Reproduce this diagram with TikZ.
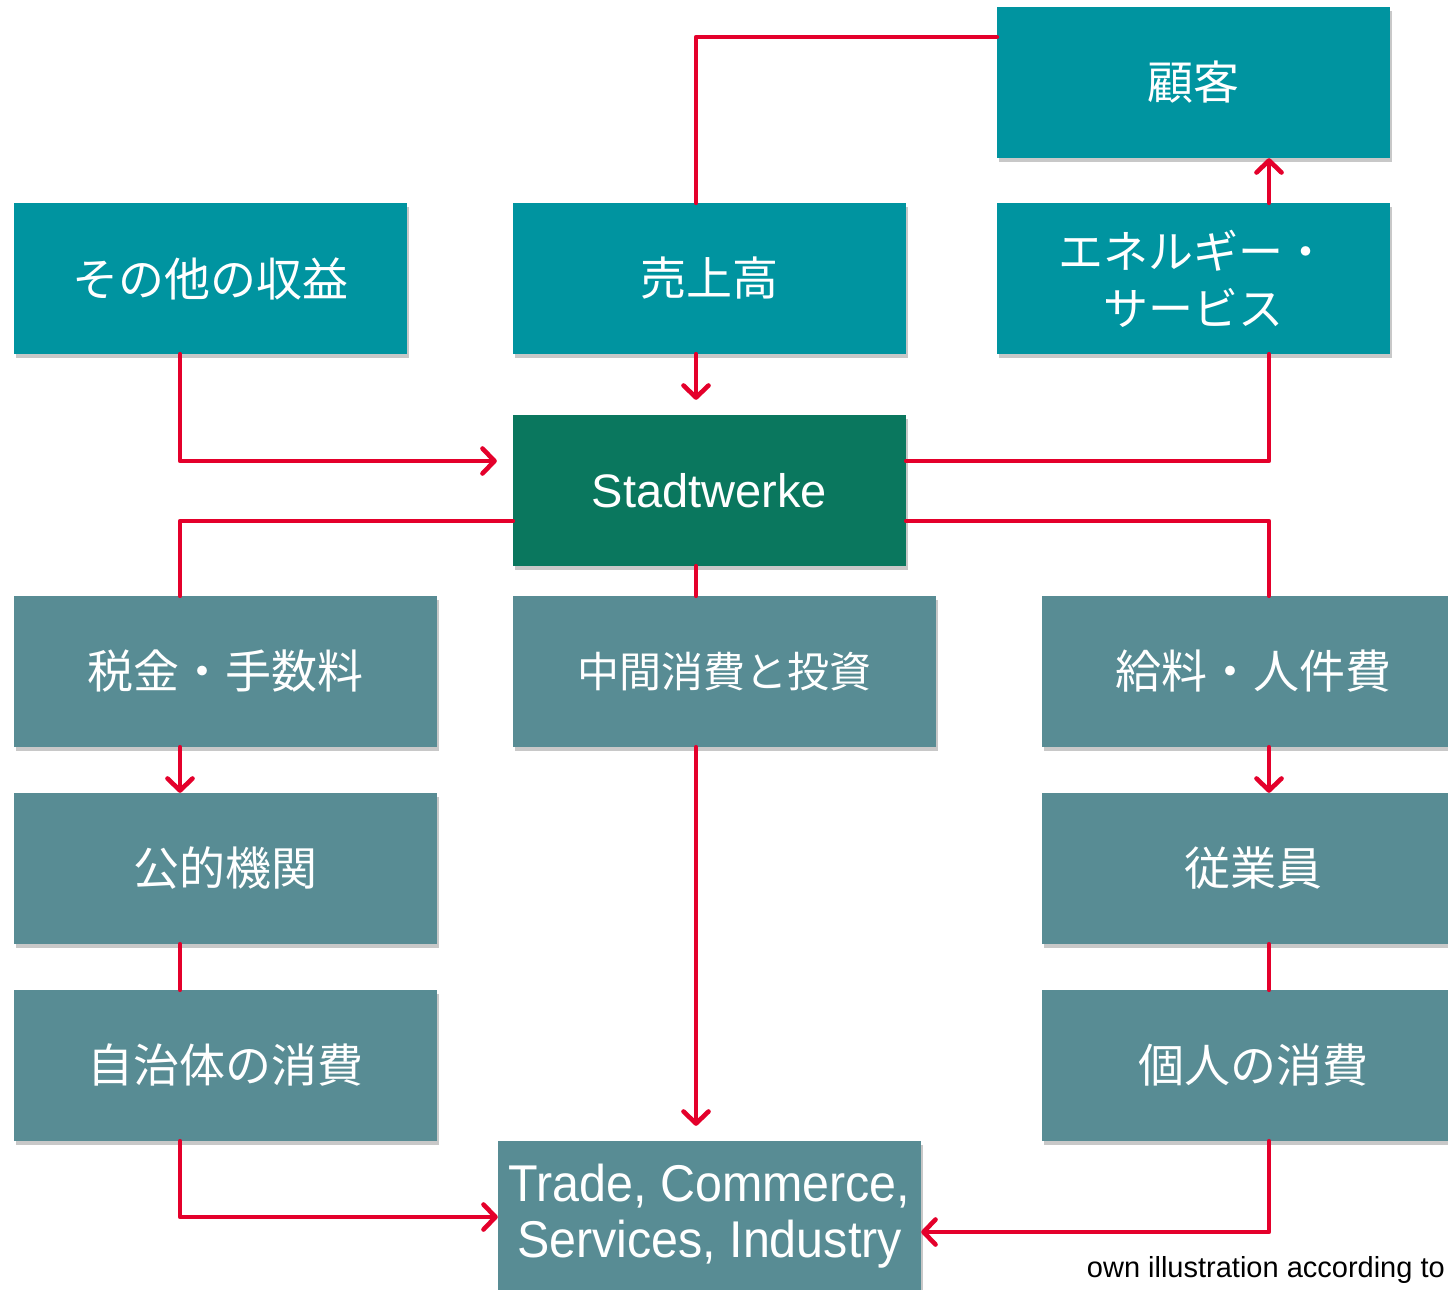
\documentclass[tikz,border=0pt]{standalone}
\usepackage{fontspec}
\setmainfont{Liberation Sans}
\newfontfamily\jp{Noto Sans CJK JP}
\usetikzlibrary{arrows.meta,shadows,calc}
\definecolor{tealbox}{HTML}{0094A0}
\definecolor{greenbox}{HTML}{0A775E}
\definecolor{graybox}{HTML}{588C94}
\definecolor{redline}{HTML}{E4002B}
\begin{document}
\begin{tikzpicture}[x=1pt,y=-1pt,
  box/.style={minimum width=393pt, minimum height=151pt, inner sep=0pt, text=white, align=center,
    drop shadow={opacity=0.3, fill=black!70, shadow xshift=2pt, shadow yshift=-4pt}},
  wbox/.style={box, minimum width=423pt},
  tealfill/.style={fill=tealbox},
  greenfill/.style={fill=greenbox},
  grayfill/.style={fill=graybox},
  jptext/.style={font=\jp\fontsize{46}{57}\selectfont},
  latext/.style={font=\fontsize{47}{55}\selectfont},
  conn/.style={draw=redline, line width=4.6pt, line join=round, line cap=round},
  arr/.style={conn, -{Straight Barb[length=12pt, width=25pt, line cap=round, line join=round]}},
]
\path[use as bounding box, fill=white] (0,0) rectangle (1448,1290);

% column/row helper coordinates
\coordinate (cL) at (180,0);
\coordinate (cC) at (696,0);
\coordinate (cR) at (1269,0);
\coordinate (rTop) at (0,37);
\coordinate (r1) at (0,461);
\coordinate (r2) at (0,521);
\coordinate (r3) at (0,1217);
\coordinate (r4) at (0,1232);

% nodes
\node[box, tealfill, jptext] (cust) at (1193.5,82.5) {顧客};
\node[box, tealfill, jptext] (other) at (210.5,278.5) {その他の収益};
\node[box, tealfill, jptext] (sales) at (709.5,278.5) {売上高};
\node[box, tealfill, font=\jp\fontsize{45}{57}\selectfont] (energy) at (1193.5,278.5) {エネルギー・\\サービス};
\node[box, greenfill, latext] (sw) at (709.5,490.5) {Stadtwerke};
\node[wbox, grayfill, jptext] (tax) at (225.5,671.5) {税金・手数料};
\node[wbox, grayfill, font=\jp\fontsize{42}{57}\selectfont] (inter) at (724.5,671.5) {中間消費と投資};
\node[wbox, grayfill, jptext] (wage) at (1253.5,671.5) {給料・人件費};
\node[wbox, grayfill, jptext] (pub) at (225.5,868.5) {公的機関};
\node[wbox, grayfill, jptext] (emp) at (1253.5,868.5) {従業員};
\node[wbox, grayfill, jptext] (muni) at (225.5,1065.5) {自治体の消費};
\node[wbox, grayfill, jptext] (priv) at (1253.5,1065.5) {個人の消費};
\node[wbox, grayfill, latext] (trade) at (709.5,1216.5) {\raisebox{-3pt}{\scalebox{1.03}[1.1]{Trade, Commerce,}}\\[1pt]\raisebox{-3pt}{\scalebox{1.03}[1.1]{Services, Industry}}};
\node[anchor=base east, inner sep=0pt, font=\fontsize{29}{34}\selectfont] (note) at (1445,1277) {own illustration according to};

% connectors
\draw[conn] (sales.north -| cC) |- (cust.west |- rTop);
\draw[arr, shorten >=15pt] (sales.south -| cC) -- (sw.north -| cC);
\draw[arr, shorten >=16pt] (other.south -| cL) |- (sw.west |- r1);
\draw[conn] (sw.east |- r1) -| (energy.south -| cR);
\draw[arr] (energy.north -| cR) -- (cust.south -| cR);
\draw[conn] (sw.west |- r2) -| (tax.north -| cL);
\draw[conn] (sw.east |- r2) -| (wage.north -| cR);
\draw[conn] (sw.south -| cC) -- (inter.north -| cC);
\draw[arr, shorten >=15pt] (inter.south -| cC) -- (trade.north -| cC);
\draw[arr] (tax.south -| cL) -- (pub.north -| cL);
\draw[conn] (pub.south -| cL) -- (muni.north -| cL);
\draw[arr] (muni.south -| cL) |- (trade.west |- r3);
\draw[arr] (wage.south -| cR) -- (emp.north -| cR);
\draw[conn] (emp.south -| cR) -- (priv.north -| cR);
\draw[arr] (priv.south -| cR) |- (trade.east |- r4);
\end{tikzpicture}
\end{document}
